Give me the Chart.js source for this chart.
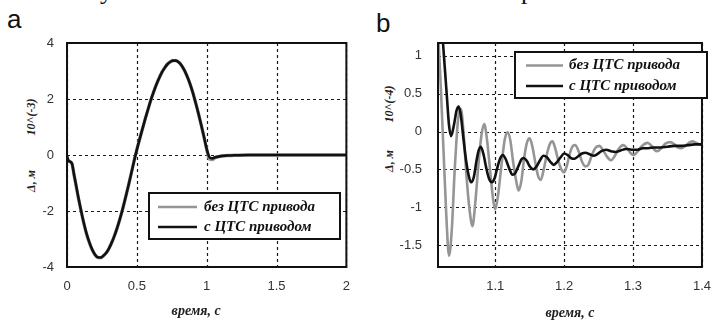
<!DOCTYPE html>
<html>
<head>
<meta charset="utf-8">
<script src="https://cdn.jsdelivr.net/npm/chart.js@4.4.1/dist/chart.umd.min.js"></script>
<style>
  body { margin: 0; background: #fff; width: 723px; height: 320px; overflow: hidden; position: relative; }
  canvas { position: absolute; top: 0; }
  #chart-a { left: 0; }
  #chart-b { left: 360px; }
  .panel { position: absolute; font-family: 'Liberation Sans Narrow', 'Liberation Sans', Arial, sans-serif; font-size: 26px; line-height: 1; color: #111; }
  .cut { position: absolute; font-family: 'Liberation Serif', serif; font-size: 26px; line-height: 1; color: #111; }
  .ytitle { position: absolute; font: italic bold 12px 'Liberation Serif', serif; line-height: 1; color: #222;
            white-space: nowrap; transform: translate(-50%, -50%) rotate(-90deg); }
</style>
</head>
<body>
<div class="cut" style="left:100px;top:-22px">у</div>
<div class="cut" style="left:521px;top:-22px">р</div>
<div class="panel" style="left:7px;top:6px">a</div>
<div class="panel" style="left:376px;top:10px">b</div>
<div class="ytitle" style="left:31px;top:181px">Δ, м</div>
<div class="ytitle" style="left:31px;top:117px">10^(-3)</div>
<div class="ytitle" style="left:389px;top:161px">Δ, м</div>
<div class="ytitle" style="left:389px;top:104px">10^(-4)</div>
<canvas id="chart-a" width="362" height="320"></canvas>
<canvas id="chart-b" width="363" height="320"></canvas>
<script>
// --- данные: панель a (Δ, м ×10^-3) ---
const timeA = [0, 0.01, 0.035, 0.05, 0.06, 0.08, 0.1, 0.12, 0.14, 0.16, 0.18, 0.2, 0.22, 0.24, 0.26, 0.28,
  0.3, 0.32, 0.34, 0.36, 0.38, 0.4, 0.42, 0.44, 0.46, 0.48, 0.5, 0.52, 0.54, 0.56, 0.58, 0.6, 0.62, 0.64,
  0.66, 0.68, 0.7, 0.72, 0.74, 0.76, 0.78, 0.8, 0.82, 0.84, 0.86, 0.88, 0.9, 0.92, 0.94, 0.96, 0.98, 1.0,
  1.02, 1.04, 1.06, 1.08, 1.1, 1.15, 1.2, 1.3, 1.4, 1.5, 2.0];
const withCtsA = [-0.05, -0.2, -0.3, -0.69, -0.95, -1.48, -1.97, -2.42, -2.81, -3.12, -3.37, -3.55, -3.65,
  -3.66, -3.6, -3.5, -3.34, -3.13, -2.88, -2.59, -2.26, -1.9, -1.5, -1.09, -0.66, -0.22, 0.19, 0.57, 0.93,
  1.29, 1.63, 1.96, 2.25, 2.52, 2.75, 2.96, 3.12, 3.25, 3.33, 3.37, 3.37, 3.31, 3.2, 3.03, 2.81, 2.55, 2.24,
  1.88, 1.5, 1.09, 0.66, 0.22, -0.08, -0.12, -0.08, -0.06, -0.04, -0.02, -0.01, 0, 0, 0, 0];
const noCtsA = [-0.05, -0.2, -0.3, -0.7, -0.96, -1.5, -1.98, -2.43, -2.82, -3.13, -3.38, -3.56, -3.66,
  -3.67, -3.61, -3.5, -3.34, -3.13, -2.88, -2.59, -2.26, -1.9, -1.5, -1.09, -0.66, -0.22, 0.19, 0.57, 0.93,
  1.29, 1.63, 1.96, 2.25, 2.52, 2.75, 2.96, 3.12, 3.25, 3.33, 3.37, 3.37, 3.31, 3.2, 3.03, 2.81, 2.55, 2.24,
  1.88, 1.5, 1.09, 0.66, 0.2, -0.14, -0.16, -0.1, -0.07, -0.04, -0.02, -0.01, 0, 0, 0, 0];
const xTicksA = [0, 0.5, 1, 1.5, 2];
const xLabelsA = ['0', '0.5', '1', '1.5', '2'];
const yTicksA = [-4, -2, 0, 2, 4];
const yLabelsA = ['-4', '-2', '0', '2', '4'];

// --- данные: панель b (Δ, м ×10^-4) ---
const timeNoB = [1.017, 1.021, 1.025, 1.029, 1.033, 1.037, 1.041, 1.046, 1.05, 1.054, 1.058, 1.063, 1.067,
  1.071, 1.076, 1.08, 1.084, 1.088, 1.093, 1.097, 1.1, 1.104, 1.109, 1.114, 1.118, 1.122, 1.126, 1.131, 1.134,
  1.138, 1.142, 1.146, 1.15, 1.154, 1.158, 1.162, 1.166, 1.17, 1.175, 1.179, 1.183, 1.187, 1.192, 1.196, 1.2,
  1.204, 1.208, 1.212, 1.216, 1.221, 1.226, 1.231, 1.235, 1.24, 1.245, 1.251, 1.256, 1.262, 1.268, 1.273,
  1.279, 1.286, 1.292, 1.297, 1.301, 1.306, 1.313, 1.321, 1.327, 1.331, 1.335, 1.341, 1.347, 1.354, 1.36,
  1.365, 1.37, 1.376, 1.381, 1.386, 1.392, 1.397, 1.4];
const noCtsB = [1.35, 0.6, -0.25, -1.1, -1.64, -1.3, -0.55, 0.15, 0.3, 0.0, -0.55, -1.05, -1.25,
  -0.95, -0.4, -0.05, 0.1, -0.1, -0.55, -0.9, -1.03, -0.85, -0.45, -0.1, -0.01, -0.12, -0.4, -0.68, -0.78,
  -0.65, -0.35, -0.15, -0.09, -0.2, -0.4, -0.58, -0.64, -0.52, -0.3, -0.17, -0.13, -0.22, -0.4, -0.5, -0.54,
  -0.45, -0.3, -0.2, -0.18, -0.26, -0.4, -0.46, -0.44, -0.32, -0.22, -0.19, -0.24, -0.33, -0.38, -0.33,
  -0.23, -0.18, -0.23, -0.29, -0.31, -0.27, -0.19, -0.15, -0.19, -0.24, -0.26, -0.22, -0.16, -0.14, -0.17,
  -0.21, -0.22, -0.19, -0.15, -0.13, -0.15, -0.17, -0.17];
const timeWithB = [1.022, 1.026, 1.03, 1.033, 1.036, 1.04, 1.044, 1.047, 1.05, 1.054, 1.058, 1.062, 1.065,
  1.069, 1.073, 1.076, 1.079, 1.083, 1.087, 1.091, 1.095, 1.099, 1.103, 1.107, 1.111, 1.115, 1.12, 1.125,
  1.129, 1.134, 1.138, 1.141, 1.146, 1.15, 1.155, 1.16, 1.165, 1.17, 1.175, 1.18, 1.185, 1.19, 1.195, 1.2,
  1.205, 1.21, 1.215, 1.22, 1.226, 1.231, 1.237, 1.243, 1.248, 1.254, 1.261, 1.268, 1.275, 1.282, 1.29,
  1.298, 1.306, 1.314, 1.322, 1.33, 1.34, 1.35, 1.36, 1.37, 1.38, 1.39, 1.4];
const withCtsB = [1.45, 0.95, 0.45, 0.08, -0.06, 0.08, 0.28, 0.33, 0.22, -0.1, -0.4, -0.6, -0.67,
  -0.6, -0.38, -0.25, -0.2, -0.3, -0.48, -0.62, -0.67, -0.62, -0.48, -0.36, -0.31, -0.36, -0.48, -0.57,
  -0.55, -0.45, -0.37, -0.35, -0.39, -0.46, -0.5, -0.46, -0.38, -0.32, -0.34, -0.4, -0.44, -0.4, -0.34, -0.29,
  -0.31, -0.35, -0.36, -0.33, -0.29, -0.28, -0.3, -0.32, -0.3, -0.26, -0.24, -0.26, -0.27, -0.25, -0.23,
  -0.24, -0.24, -0.22, -0.22, -0.21, -0.21, -0.2, -0.19, -0.19, -0.18, -0.17, -0.17];
const xTicksB = [1.1, 1.2, 1.3, 1.4];
const xLabelsB = ['1.1', '1.2', '1.3', '1.4'];
const yTicksB = [-1.5, -1, -0.5, 0, 0.5, 1];
const yLabelsB = ['-1.5', '-1', '-0.5', '0', '0.5', '1'];

const seriesLabels = ['без ЦТС привода', 'с ЦТС приводом'];

const points = (xs, ys) => xs.map((x, i) => ({ x: x, y: ys[i] }));
const gap = n => '\u00a0'.repeat(n);

// пунктирная сетка по тикам шкал, рамка осей и легенда внутри области (как в MATLAB)
const frame = {
  id: 'frame',
  beforeDatasetsDraw(chart) {
    const { ctx, chartArea: a, scales: { x, y } } = chart;
    ctx.save();
    ctx.strokeStyle = '#1a1a1a';
    ctx.lineWidth = 1.2;
    ctx.setLineDash([3, 3]);
    ctx.beginPath();
    x.ticks.forEach(t => {
      const px = Math.round(x.getPixelForValue(t.value)) + 0.5;
      ctx.moveTo(px, a.top);
      ctx.lineTo(px, a.bottom);
    });
    y.ticks.forEach(t => {
      const py = Math.round(y.getPixelForValue(t.value)) + 0.5;
      ctx.moveTo(a.left, py);
      ctx.lineTo(a.right, py);
    });
    ctx.stroke();
    ctx.restore();
  },
  afterDatasetsDraw(chart) {
    const a = chart.chartArea, ctx = chart.ctx;
    ctx.save();
    ctx.strokeStyle = '#111';
    ctx.lineWidth = 2;
    ctx.strokeRect(a.left, a.top, a.right - a.left, a.bottom - a.top);
    ctx.restore();
  },
  afterDraw(chart, args, o) {
    const ctx = chart.ctx;
    ctx.save();
    ctx.fillStyle = '#fff';
    ctx.fillRect(o.left, o.top, o.width, o.height);
    ctx.strokeStyle = '#111';
    ctx.lineWidth = 2;
    ctx.strokeRect(o.left, o.top, o.width, o.height);
    ctx.font = 'italic bold 15px "Liberation Serif", "DejaVu Serif", serif';
    ctx.textBaseline = 'middle';
    chart.data.datasets.forEach((ds, i) => {
      const y = o.rows[i];
      ctx.strokeStyle = ds.borderColor;
      ctx.lineWidth = 2.6;
      ctx.beginPath();
      ctx.moveTo(o.lineFrom, y);
      ctx.lineTo(o.lineTo, y);
      ctx.stroke();
      ctx.fillStyle = '#111';
      ctx.fillText(ds.label, o.textX, y);
    });
    ctx.restore();
  }
};

function makeChart(id, c) {
  const tickFont = { family: "'Liberation Sans', Arial, sans-serif", size: 13 };
  const xTitleFont = { family: "'Liberation Serif', serif", size: 14, style: 'italic', weight: 'bold', lineHeight: 1 };
  return new Chart(document.getElementById(id), {
    type: 'line',
    data: {
      datasets: [
        { label: seriesLabels[0], data: c.gray, borderColor: '#959595', borderWidth: c.grayWidth,
          pointRadius: 0, order: 2, cubicInterpolationMode: 'monotone' },
        { label: seriesLabels[1], data: c.black, borderColor: '#111', borderWidth: 2.6,
          pointRadius: 0, order: 1, cubicInterpolationMode: 'monotone' }
      ]
    },
    options: {
      responsive: false,
      animation: false,
      events: [],
      layout: { padding: { top: 43, right: c.padRight, bottom: 0, left: 0 } },
      plugins: { legend: { display: false }, tooltip: { enabled: false }, frame: c.legend },
      scales: {
        x: {
          type: 'linear', min: c.xMin, max: c.xMax,
          afterBuildTicks: s => { s.ticks = c.xTicks.map(v => ({ value: v })); },
          afterFit: s => { s.height = 53; },
          grid: { display: false, drawTicks: false },
          border: { display: false },
          ticks: { font: tickFont, color: '#333', padding: 12, maxRotation: 0,
                   callback: (v, i) => c.xLabels[i] },
          title: { display: true, text: c.xTitle, font: xTitleFont, color: '#222',
                   padding: { top: 0, bottom: c.xTitlePad } }
        },
        y: {
          type: 'linear', min: c.yMin, max: c.yMax,
          afterBuildTicks: s => { s.ticks = c.yTicks.map(v => ({ value: v })); },
          afterFit: s => { s.width = c.yWidth; },
          grid: { display: false, drawTicks: false },
          border: { display: false },
          ticks: { font: tickFont, color: '#333', padding: c.yTickPad,
                   callback: (v, i) => c.yLabels[i] }
        }
      }
    },
    plugins: [frame]
  });
}

makeChart('chart-a', {
  gray: points(timeA, noCtsA), black: points(timeA, withCtsA), grayWidth: 3.4,
  xMin: 0, xMax: 2, yMin: -4, yMax: 4,
  xTicks: xTicksA, xLabels: xLabelsA, yTicks: yTicksA, yLabels: yLabelsA,
  padRight: 5, yWidth: 67, yTickPad: 13, xTitlePad: 2,
  xTitle: 'время, с' + gap(6),
  legend: { left: 149, top: 193, width: 191, height: 46, rows: [207, 227], lineFrom: 158, lineTo: 197, textX: 204 }
});

makeChart('chart-b', {
  gray: points(timeNoB, noCtsB), black: points(timeWithB, withCtsB), grayWidth: 2.6,
  xMin: 1.017, xMax: 1.4, yMin: -1.79, yMax: 1.17,
  xTicks: xTicksB, xLabels: xLabelsB, yTicks: yTicksB, yLabels: yLabelsB,
  padRight: 10, yWidth: 78, yTickPad: 16, xTitlePad: 0,
  xTitle: 'время, с',
  legend: { left: 155, top: 52, width: 192, height: 46, rows: [65.5, 86], lineFrom: 166, lineTo: 203, textX: 209 }
});
</script>
</body>
</html>
